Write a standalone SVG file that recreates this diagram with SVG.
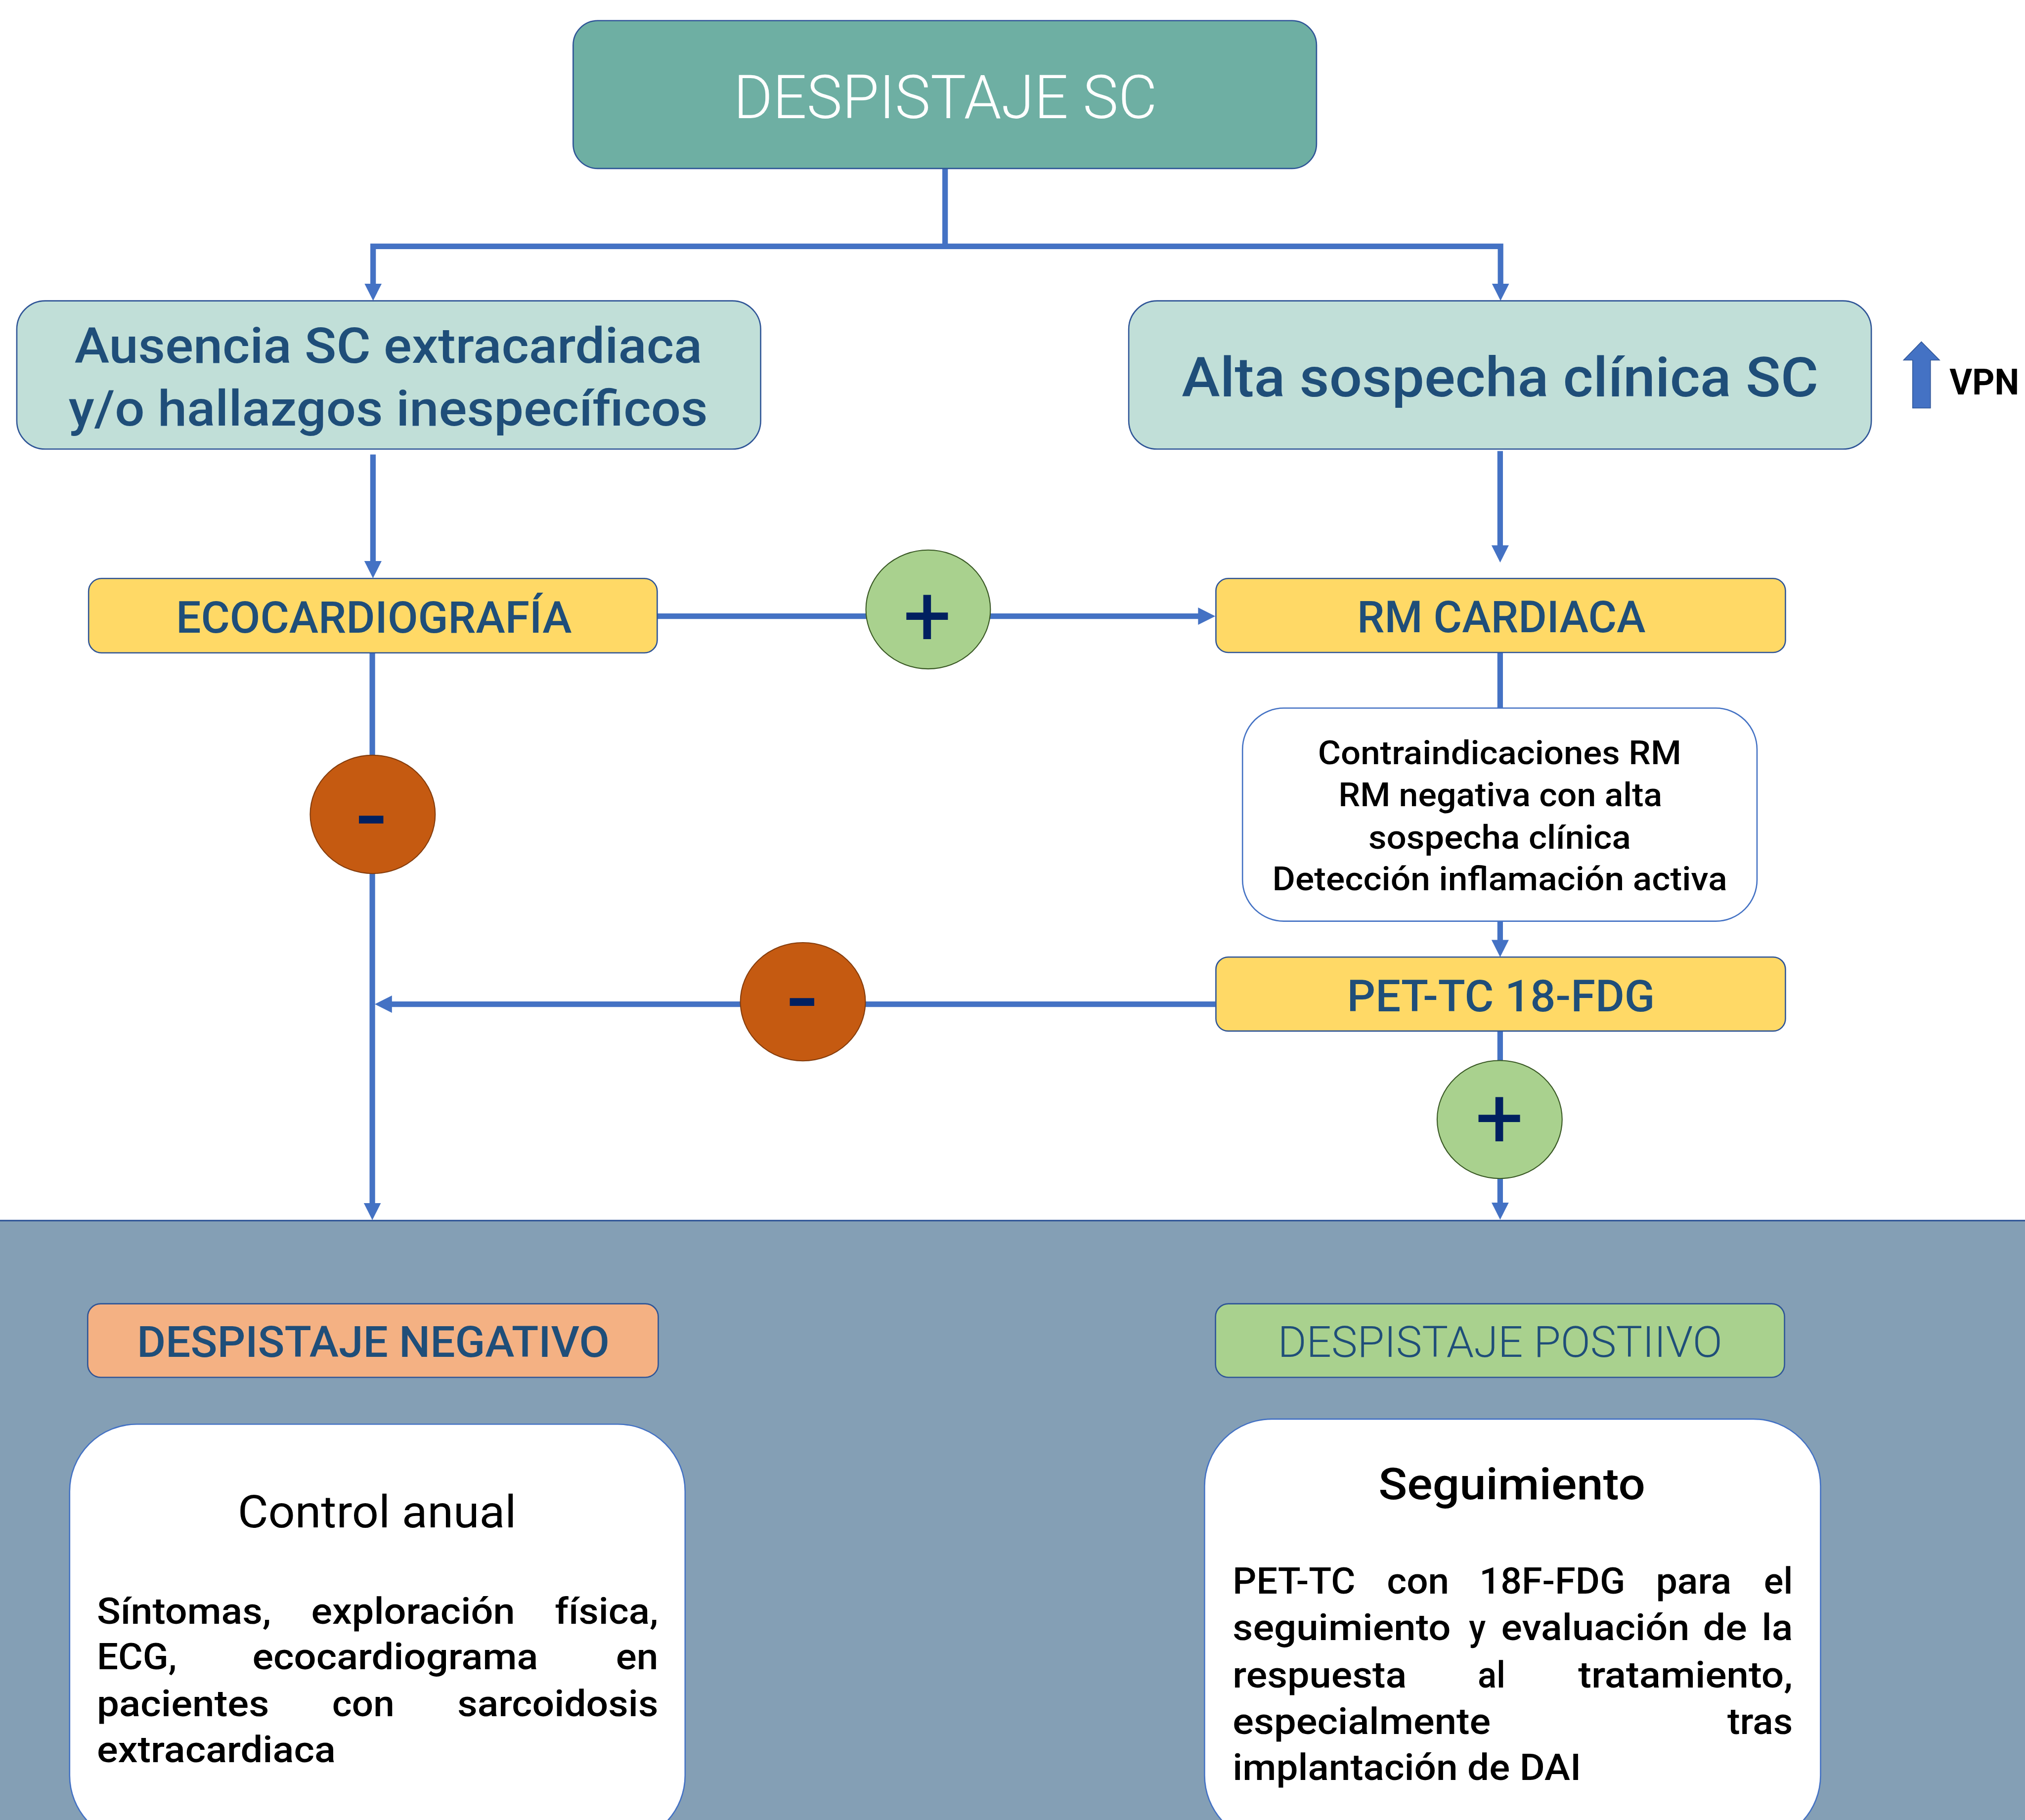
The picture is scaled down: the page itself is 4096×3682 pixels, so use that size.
<svg xmlns="http://www.w3.org/2000/svg" width="4096" height="3682" viewBox="0 0 4096 3682">
<style>
text{font-family:Roboto,"Liberation Sans",sans-serif}
.box{stroke:#2F5597;stroke-width:1}
.lbl{fill:#1F4E79;font-weight:500;text-anchor:middle}
.lt{font-weight:300}
.wb{fill:#FFFFFF;stroke:#4472C4;stroke-width:1}
.bt{fill:#000000;font-weight:500}
.reg{font-weight:400}
.mid{text-anchor:middle}
.conn{fill:none;stroke:#4472C4;stroke-width:4.3}
.sign{fill:#002060;font-weight:700;text-anchor:middle}
.plus{fill:#002060;font-weight:400;text-anchor:middle}
</style>
<defs>
<marker id="ah" viewBox="0 0 13.3 13.4" refX="7.3" refY="6.7" markerWidth="13.3" markerHeight="13.4" markerUnits="userSpaceOnUse" orient="auto-start-reverse">
<path d="M0,0 L13.3,6.7 L0,13.4 Z" fill="#4472C4"/>
</marker>
</defs>
<rect x="0" y="0" width="4096" height="3682" fill="#FFFFFF"/>
<g transform="scale(2.612245)">
<g id="connectors">
<path class="conn" d="M731.8,130.5 V190.8"/>
<path class="conn" d="M288.9,226.9 V190.8 H1161.9 V226.9" marker-start="url(#ah)" marker-end="url(#ah)"/>
<path class="conn" d="M288.8,352 V441.8" marker-end="url(#ah)"/>
<path class="conn" d="M1161.6,349.3 V429.6" marker-end="url(#ah)"/>
<path class="conn" d="M509,477.2 H935" marker-end="url(#ah)"/>
<path class="conn" d="M1161.6,505.2 V548.4"/>
<path class="conn" d="M1161.6,713.4 V735.2" marker-end="url(#ah)"/>
<path class="conn" d="M941,777.7 H296.2" marker-end="url(#ah)"/>
<path class="conn" d="M288.3,505.6 V938.9" marker-end="url(#ah)"/>
<path class="conn" d="M1161.6,798.5 V938.6" marker-end="url(#ah)"/>
</g>
<g id="panel">
<rect x="-2" y="945.3" width="1572" height="470" fill="#849FB5" stroke="#2F5597" stroke-width="1.2"/>
</g>
<g id="despistaje-sc">
<rect class="box" x="443.8" y="16" width="575.6" height="114.5" rx="19" fill="#6EAFA3"/>
<text class="lt" x="732" y="91.4" font-size="47" fill="#FFFFFF" text-anchor="middle" textLength="328" lengthAdjust="spacingAndGlyphs">DESPISTAJE SC</text>
</g>
<g id="ausencia">
<rect class="box" x="13" y="233" width="576" height="114.8" rx="22" fill="#C1DFD8"/>
<text class="lbl" x="300.7" y="280.8" font-size="38.5" textLength="486" lengthAdjust="spacingAndGlyphs">Ausencia SC extracardiaca</text>
<text class="lbl" x="300.6" y="329.5" font-size="38.5" textLength="495" lengthAdjust="spacingAndGlyphs">y/o hallazgos inespecíficos</text>
</g>
<g id="alta">
<rect class="box" x="874" y="233" width="575" height="114.8" rx="22" fill="#C1DFD8"/>
<text class="lbl" x="1161.5" y="307" font-size="42.5" textLength="493" lengthAdjust="spacingAndGlyphs">Alta sospecha clínica SC</text>
</g>
<g id="vpn">
<path d="M1487.8,264.7 L1501.8,278.9 L1494.8,278.9 L1494.8,316 L1481,316 L1481,278.9 L1474,278.9 Z" fill="#4472C4" stroke="#2F5597" stroke-width="0.6"/>
<text x="1509.5" y="305.4" font-size="28" font-weight="700" fill="#000000" textLength="54" lengthAdjust="spacingAndGlyphs">VPN</text>
</g>
<g id="ecocardiografia">
<rect class="box" x="68.6" y="448" width="440.3" height="57.6" rx="10" fill="#FFD966"/>
<text class="lbl" x="289.5" y="490" font-size="34" textLength="306.4" lengthAdjust="spacingAndGlyphs">ECOCARDIOGRAFÍA</text>
</g>
<g id="plus-1">
<ellipse cx="718.7" cy="472" rx="48.2" ry="46" fill="#A9D18E" stroke="#385723" stroke-width="0.8"/>
<text class="plus" x="718" y="499.4" font-size="66">+</text>
</g>
<g id="rm-cardiaca">
<rect class="box" x="941.5" y="448" width="441" height="57.3" rx="9.5" fill="#FFD966"/>
<text class="lbl" x="1162.5" y="489.5" font-size="34" textLength="223.4" lengthAdjust="spacingAndGlyphs">RM CARDIACA</text>
</g>
<g id="indicaciones">
<rect class="wb" x="962.1" y="548.4" width="398.4" height="165" rx="32"/>
<text class="bt mid" x="1161.2" y="591.9" font-size="25.4" textLength="281.4" lengthAdjust="spacingAndGlyphs">Contraindicaciones RM</text>
<text class="bt mid" x="1161.7" y="624.4" font-size="25.4" textLength="250.7" lengthAdjust="spacingAndGlyphs">RM negativa con alta</text>
<text class="bt mid" x="1161.2" y="657.3" font-size="25.4" textLength="203.2" lengthAdjust="spacingAndGlyphs">sospecha clínica</text>
<text class="bt mid" x="1161.3" y="689.5" font-size="25.4" textLength="352.2" lengthAdjust="spacingAndGlyphs">Detección inflamación activa</text>
</g>
<g id="pet-tc">
<rect class="box" x="941.5" y="741.2" width="441" height="57.3" rx="9.5" fill="#FFD966"/>
<text class="lbl" x="1162.2" y="783.4" font-size="34" textLength="238.4" lengthAdjust="spacingAndGlyphs">PET-TC 18-FDG</text>
</g>
<g id="minus-1">
<ellipse cx="288.6" cy="630.7" rx="48.4" ry="45.8" fill="#C55A11" stroke="#843C0C" stroke-width="0.8"/>
<text class="sign" x="287.6" y="651.5" font-size="55" textLength="27" lengthAdjust="spacingAndGlyphs">-</text>
</g>
<g id="minus-2">
<ellipse cx="621.7" cy="775.8" rx="48.4" ry="45.8" fill="#C55A11" stroke="#843C0C" stroke-width="0.8"/>
<text class="sign" x="621.2" y="792.7" font-size="55" textLength="27" lengthAdjust="spacingAndGlyphs">-</text>
</g>
<g id="plus-2">
<ellipse cx="1161.2" cy="867" rx="48.4" ry="45.7" fill="#A9D18E" stroke="#385723" stroke-width="0.8"/>
<text class="plus" x="1161" y="888.6" font-size="66">+</text>
</g>
<g id="despistaje-negativo">
<rect class="box" x="67.9" y="1009.7" width="441.8" height="57" rx="10" fill="#F4B183"/>
<text class="lbl" x="289" y="1051" font-size="33.3" textLength="366" lengthAdjust="spacingAndGlyphs">DESPISTAJE NEGATIVO</text>
</g>
<g id="despistaje-positivo">
<rect class="box" x="941.2" y="1009.7" width="440.6" height="57" rx="10" fill="#A9D18E"/>
<text class="lbl lt" x="1161.5" y="1051" font-size="33.3" textLength="344.3" lengthAdjust="spacingAndGlyphs">DESPISTAJE POSTIIVO</text>
</g>
<g id="control-anual">
<rect class="wb" x="53.9" y="1103" width="476.6" height="324" rx="52"/>
<text class="bt mid reg" x="291.9" y="1182.9" font-size="35" textLength="215.8" lengthAdjust="spacingAndGlyphs">Control anual</text>
<g class="bt" font-size="28.5">
<text x="75" y="1257.4" textLength="135" lengthAdjust="spacingAndGlyphs">Síntomas,</text>
<text x="241" y="1257.4" textLength="157.7" lengthAdjust="spacingAndGlyphs">exploración</text>
<text x="429.6" y="1257.4" textLength="80.1" lengthAdjust="spacingAndGlyphs">física,</text>
<text x="75" y="1292.8" textLength="61.9" lengthAdjust="spacingAndGlyphs">ECG,</text>
<text x="195.4" y="1292.8" textLength="221.3" lengthAdjust="spacingAndGlyphs">ecocardiograma</text>
<text x="476.9" y="1292.8" textLength="32.8" lengthAdjust="spacingAndGlyphs">en</text>
<text x="75" y="1329" textLength="133.4" lengthAdjust="spacingAndGlyphs">pacientes</text>
<text x="257.2" y="1329" textLength="48.2" lengthAdjust="spacingAndGlyphs">con</text>
<text x="354.2" y="1329" textLength="155.5" lengthAdjust="spacingAndGlyphs">sarcoidosis</text>
<text x="75" y="1364.7" textLength="184.9" lengthAdjust="spacingAndGlyphs">extracardiaca</text>
</g>
</g>
<g id="seguimiento">
<rect class="wb" x="932.7" y="1099" width="477" height="328" rx="52"/>
<text class="bt mid" x="1170.7" y="1161" font-size="34" textLength="206.6" lengthAdjust="spacingAndGlyphs">Seguimiento</text>
<g class="bt" font-size="28.5">
<text x="954.5" y="1234.3" textLength="95" lengthAdjust="spacingAndGlyphs">PET-TC</text>
<text x="1073.9" y="1234.3" textLength="48.2" lengthAdjust="spacingAndGlyphs">con</text>
<text x="1145.5" y="1234.3" textLength="112.9" lengthAdjust="spacingAndGlyphs">18F-FDG</text>
<text x="1282.2" y="1234.3" textLength="58.5" lengthAdjust="spacingAndGlyphs">para</text>
<text x="1365.8" y="1234.3" textLength="22.4" lengthAdjust="spacingAndGlyphs">el</text>
<text x="954.5" y="1270.2" textLength="168.9" lengthAdjust="spacingAndGlyphs">seguimiento</text>
<text x="1137.4" y="1270.2" textLength="13" lengthAdjust="spacingAndGlyphs">y</text>
<text x="1162.4" y="1270.2" textLength="145.8" lengthAdjust="spacingAndGlyphs">evaluación</text>
<text x="1318.6" y="1270.2" textLength="34.2" lengthAdjust="spacingAndGlyphs">de</text>
<text x="1364.2" y="1270.2" textLength="24" lengthAdjust="spacingAndGlyphs">la</text>
<text x="954.5" y="1306.9" textLength="134.7" lengthAdjust="spacingAndGlyphs">respuesta</text>
<text x="1144.2" y="1306.9" textLength="21.5" lengthAdjust="spacingAndGlyphs">al</text>
<text x="1222" y="1306.9" textLength="166.2" lengthAdjust="spacingAndGlyphs">tratamiento,</text>
<text x="954.5" y="1342.9" textLength="199.8" lengthAdjust="spacingAndGlyphs">especialmente</text>
<text x="1337.5" y="1342.9" textLength="50.7" lengthAdjust="spacingAndGlyphs">tras</text>
<text x="954.5" y="1378.6" textLength="269.8" lengthAdjust="spacingAndGlyphs">implantación de DAI</text>
</g>
</g>
</g>
</svg>
